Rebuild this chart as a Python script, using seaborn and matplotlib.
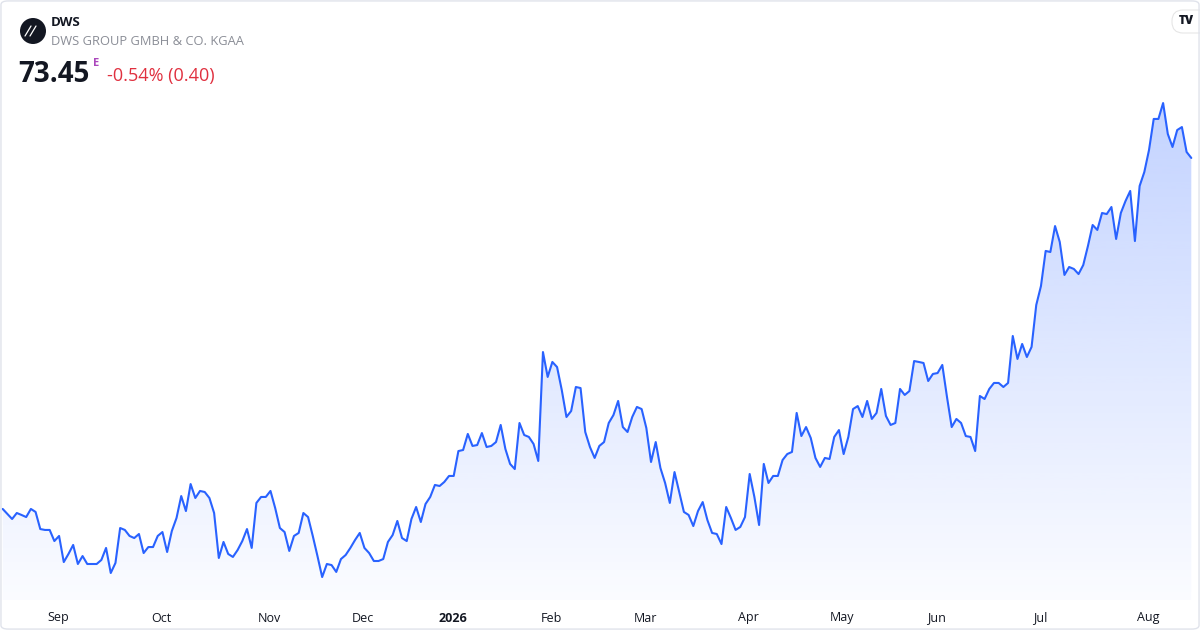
import numpy as np
import pandas as pd
import seaborn as sns
from matplotlib import pyplot as plt
from matplotlib.patches import FancyBboxPatch, Circle, PathPatch
from matplotlib.lines import Line2D
from matplotlib import transforms

# daily closes, DWS Group (Xetra)
price = [
    50.05, 49.71, 49.38, 49.78, 49.65, 49.51, 50.05, 49.85, 48.71, 48.65,
    48.65, 47.91, 48.25, 46.51, 47.05, 47.65, 46.38, 46.91, 46.38, 46.38,
    46.38, 46.65, 47.45, 45.78, 46.45, 48.78, 48.65, 48.25, 48.11, 48.38,
    47.11, 47.51, 47.51, 48.25, 48.51, 47.18, 48.58, 49.45, 50.91, 49.91,
    51.71, 50.78, 51.25, 51.18, 50.78, 49.78, 46.78, 47.85, 47.05, 46.85,
    47.31, 47.91, 48.71, 47.45, 50.45, 50.85, 50.85, 51.25, 50.11, 48.78,
    48.51, 47.25, 48.25, 48.45, 49.78, 49.51, 48.25, 46.91, 45.51, 46.38,
    46.31, 45.85, 46.71, 46.98, 47.45, 47.98, 48.45, 47.45, 47.11, 46.58,
    46.58, 46.71, 47.85, 48.31, 49.25, 48.11, 47.91, 49.38, 50.18, 49.18,
    50.38, 50.85, 51.65, 51.58, 51.85, 52.25, 52.25, 53.91, 53.98, 55.05,
    54.25, 54.31, 55.11, 54.18, 54.25, 54.51, 55.65, 54.05, 53.05, 52.71,
    55.78, 54.98, 54.85, 54.38, 53.25, 60.51, 58.85, 59.85, 59.51, 57.98,
    56.18, 56.58, 58.18, 58.11, 55.18, 54.18, 53.45, 54.25, 54.51, 55.78,
    56.31, 57.25, 55.51, 55.18, 56.18, 56.85, 56.71, 55.45, 53.18, 54.51,
    52.78, 51.78, 50.45, 52.51, 51.18, 49.85, 49.65, 48.91, 49.91, 50.51,
    49.31, 48.45, 48.38, 47.71, 50.18, 49.45, 48.65, 48.85, 49.51, 52.38,
    50.85, 48.98, 53.05, 51.78, 52.25, 52.25, 53.31, 53.71, 53.85, 56.45,
    54.91, 55.51, 54.78, 53.45, 52.85, 53.45, 53.38, 54.85, 55.31, 53.71,
    54.85, 56.71, 56.91, 56.18, 57.25, 56.05, 56.45, 58.05, 56.25, 55.65,
    55.78, 58.05, 57.65, 57.91, 59.91, 59.85, 59.78, 58.58, 59.05, 59.11,
    59.65, 57.51, 55.51, 56.05, 55.78, 54.91, 54.85, 53.91, 57.58, 57.38,
    58.05, 58.45, 58.45, 58.18, 58.45, 61.58, 60.05, 61.05, 60.18, 60.85,
    63.65, 64.91, 67.25, 67.18, 68.91, 67.85, 65.65, 66.18, 66.05, 65.71,
    66.31, 67.58, 68.98, 68.65, 69.78, 69.71, 70.18, 68.05, 69.78, 70.58,
    71.25, 67.91, 71.58, 72.51, 73.98, 76.05, 76.05, 77.11, 75.05, 74.18,
    75.31, 75.51, 73.85, 73.45,
]

# Xetra closing days in the window
holidays = ["2025-12-24", "2025-12-25", "2025-12-26", "2025-12-31",
            "2026-01-01", "2026-04-03", "2026-04-06", "2026-05-01"]
dates = pd.bdate_range(start="2025-08-15", periods=len(price), freq="C",
                       holidays=holidays)

month_labels = ["Sep", "Oct", "Nov", "Dec", "2026", "Feb", "Mar", "Apr",
                "May", "Jun", "Jul", "Aug"]

ticker = "DWS"
company = "DWS GROUP GMBH & CO. KGAA"
last_text = "73.45"
change_text = "-0.54% (0.40)"

LINE = "#2962ff"
W, H = 1200, 630

df = pd.DataFrame({"idx": np.arange(len(price)), "close": price,
                   "date": dates})

sns.set_theme(style="white")
plt.rcParams["font.family"] = ["Open Sans", "DejaVu Sans"]

fig = plt.figure(figsize=(12, 6.3), dpi=100)
fig.patch.set_facecolor("white")
ax = fig.add_axes([0, 0, 1, 1])
ax.set_facecolor("none")

# pixel mapping: first bar at x=2.7px, 4.698 px per bar; 15 px per euro
px_per_bar = 4.698
x0 = -2.7 / px_per_bar
x1 = x0 + W / px_per_bar
y_top = 83.98
y_bot = y_top - H / 15.0

# gradient area under the line
poly = ax.fill_between(df["idx"], df["close"], y_bot, facecolor="none",
                       edgecolor="none")
clip = PathPatch(poly.get_paths()[0], transform=ax.transData,
                 facecolor="none", edgecolor="none")
ax.add_patch(clip)
n = 256
alpha = np.linspace(0.02, 0.28, n)[:, None]
grad = np.zeros((n, 1, 4))
grad[..., 0] = 41 / 255
grad[..., 1] = 98 / 255
grad[..., 2] = 1.0
grad[..., 3] = alpha
im = ax.imshow(grad, extent=[x0, x1, y_top - 600 / 15.0, max(price)],
               origin="lower", aspect="auto", interpolation="bicubic",
               zorder=1)
im.set_clip_path(clip)

sns.lineplot(data=df, x="idx", y="close", color=LINE, linewidth=1.5,
             ax=ax, zorder=3)

ax.set_xlim(x0, x1)
ax.set_ylim(y_bot, y_top)
ax.set_xlabel("")
ax.set_ylabel("")
ax.set_xticks([])
ax.set_yticks([])
for s in ax.spines.values():
    s.set_visible(False)

# month labels at the first bar of each month
starts = np.flatnonzero(np.diff(df["date"].dt.month.values) != 0) + 1
trans = transforms.blended_transform_factory(ax.transData, fig.transFigure)
for pos, lab in zip(starts, month_labels):
    ax.text(pos + 0.75, 1 - 618 / H, lab, transform=trans, ha="center",
            va="center", fontsize=9, color="#131722",
            fontweight="bold" if lab == "2026" else "normal")


def fx(px):
    return px / W


def fy(py):
    return 1 - py / H


# header: round logo with two slashes
logo = Circle((33, H - 31), 13, transform=transforms.IdentityTransform(),
              facecolor="#131722", edgecolor="none", zorder=5)
fig.patches.append(logo)
for dx in (-3, 2):
    fig.lines.append(Line2D([fx(28 + dx), fx(34 + dx)], [fy(36), fy(26)],
                            transform=fig.transFigure, color="white",
                            linewidth=0.9, zorder=6))

fig.text(fx(51), fy(26.5), ticker, fontsize=9.5, fontweight="bold",
         color="#131722", va="baseline", ha="left")
fig.text(fx(51), fy(45), company, fontsize=9.25, color="#8a8d96",
         va="baseline", ha="left")
fig.text(fx(18), fy(81.5), last_text, fontsize=20, fontweight="bold",
         color="#131722", va="baseline", ha="left")
fig.text(fx(92.5), fy(65.5), "E", fontsize=8, fontweight="bold",
         color="#ab47bc", va="baseline", ha="left")
fig.text(fx(107), fy(81.5), change_text, fontsize=13, color="#e0303f",
         va="baseline", ha="left")

# TradingView badge, top right
fig.patches.append(FancyBboxPatch((1172, H - 33), 50, 23,
                                  boxstyle="round,pad=0,rounding_size=11",
                                  transform=transforms.IdentityTransform(),
                                  facecolor="white", edgecolor="#e6e6e6",
                                  linewidth=0.8, zorder=5))
fig.text(fx(1186), fy(21), "TV", fontsize=8.5, fontweight="heavy",
         color="#131722", ha="center", va="center", zorder=6)

# outer card border
fig.patches.append(FancyBboxPatch((0.0008, 0.0015), 0.9984, 0.997,
                                  boxstyle="round,pad=0,rounding_size=0.006",
                                  transform=fig.transFigure,
                                  facecolor="none", edgecolor="#e0e3eb",
                                  linewidth=1.0, zorder=10))

fig.savefig("out.png", dpi=100, facecolor="white")
